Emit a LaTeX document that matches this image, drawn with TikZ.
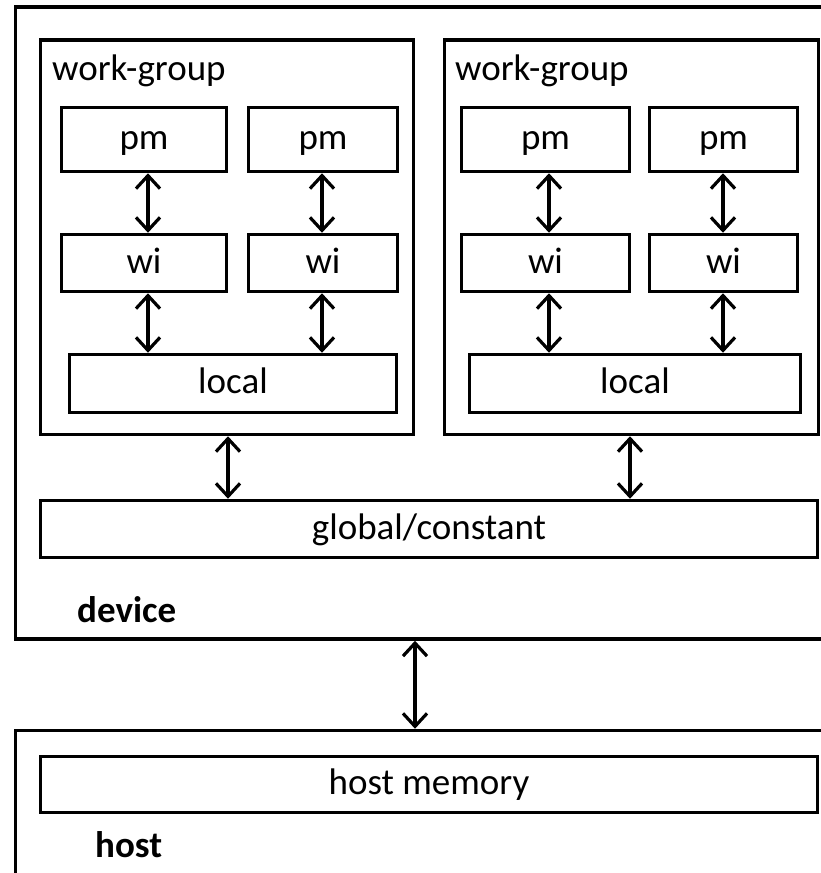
\documentclass[tikz,border=0pt]{standalone}
\usepackage{fontspec}
\setmainfont{Carlito}
\usetikzlibrary{arrows.meta}
\begin{document}
\begin{tikzpicture}[x=1pt,y=-1pt,
  box/.style={draw, line width=3.5pt, rectangle, inner sep=0pt,
    text height=26pt, text depth=6pt},
  frame/.style={draw, line width=3.5pt, rectangle, inner sep=0pt},
  link/.style={line width=3.2pt, {Straight Barb[length=13pt,width=24pt]}-{Straight Barb[length=13pt,width=24pt]}},
  lbl/.style={anchor=base west, inner sep=0pt},
  font=\fontsize{37}{44}\selectfont]
\useasboundingbox (0,0) rectangle (821,873);
\clip (0,0) rectangle (821,873);
% outer frames
\node[frame, minimum width=824.5pt, minimum height=632pt] (device) at (427.75,323) {};
\node[frame, minimum width=824.5pt, minimum height=169.5pt] (host) at (427.75,815.25) {};
% work-groups
\node[frame, minimum width=373pt, minimum height=394.5pt] (wg1) at (227,237.25) {};
\node[frame, minimum width=374pt, minimum height=394.5pt] (wg2) at (631.5,237.25) {};
\node[lbl] (wg1t) at (52,80) {work-group};
\node[lbl] (wg2t) at (455,80) {work-group};
% pm
\node[box, minimum width=165pt, minimum height=64pt] (pm11) at (144,139.5) {pm};
\node[box, minimum width=149pt, minimum height=64pt] (pm12) at (323,139.5) {pm};
\node[box, minimum width=168pt, minimum height=64pt] (pm21) at (545.5,139.5) {pm};
\node[box, minimum width=148pt, minimum height=64pt] (pm22) at (723.5,139.5) {pm};
% wi
\node[box, minimum width=165pt, minimum height=57pt] (wi11) at (144,263) {wi};
\node[box, minimum width=149pt, minimum height=57pt] (wi12) at (323,263) {wi};
\node[box, minimum width=168pt, minimum height=57pt] (wi21) at (545.5,263) {wi};
\node[box, minimum width=148pt, minimum height=57pt] (wi22) at (723.5,263) {wi};
% local
\node[box, minimum width=327pt, minimum height=58pt] (loc1) at (233,383.5) {local};
\node[box, minimum width=331pt, minimum height=58pt] (loc2) at (635,383.5) {local};
% global
\node[box, minimum width=777pt, minimum height=57pt] (glob) at (429,529) {global/constant};
% host memory
\node[box, minimum width=777pt, minimum height=56pt] (hmem) at (429,784.5) {host memory};
% labels
\node[lbl, font=\fontsize{37}{44}\selectfont\bfseries] (devt) at (77,622) {device};
\node[lbl, font=\fontsize{37}{44}\selectfont\bfseries] (hostt) at (95,857) {host};
% connectors pm <-> wi
\draw[link] ([xshift=4pt]pm11.south) -- ([xshift=4pt]wi11.north);
\draw[link] ([xshift=-1pt]pm12.south) -- ([xshift=-1pt]wi12.north);
\draw[link] ([xshift=3.5pt]pm21.south) -- ([xshift=3.5pt]wi21.north);
\draw[link] ([xshift=-0.5pt]pm22.south) -- ([xshift=-0.5pt]wi22.north);
% connectors wi <-> local
\draw[link] ([xshift=4pt]wi11.south) -- ([xshift=-85pt]loc1.north);
\draw[link] ([xshift=-1pt]wi12.south) -- ([xshift=89pt]loc1.north);
\draw[link] ([xshift=3.5pt]wi21.south) -- ([xshift=-86pt]loc2.north);
\draw[link] ([xshift=-0.5pt]wi22.south) -- ([xshift=88pt]loc2.north);
% connectors work-group <-> global
\draw[link] ([xshift=1pt]wg1.south) -- ([xshift=-201pt]glob.north);
\draw[link] ([xshift=-1.5pt]wg2.south) -- ([xshift=201pt]glob.north);
% device <-> host
\draw[link] ([xshift=-12.75pt]device.south) -- ([xshift=-12.75pt]host.north);
\end{tikzpicture}
\end{document}
